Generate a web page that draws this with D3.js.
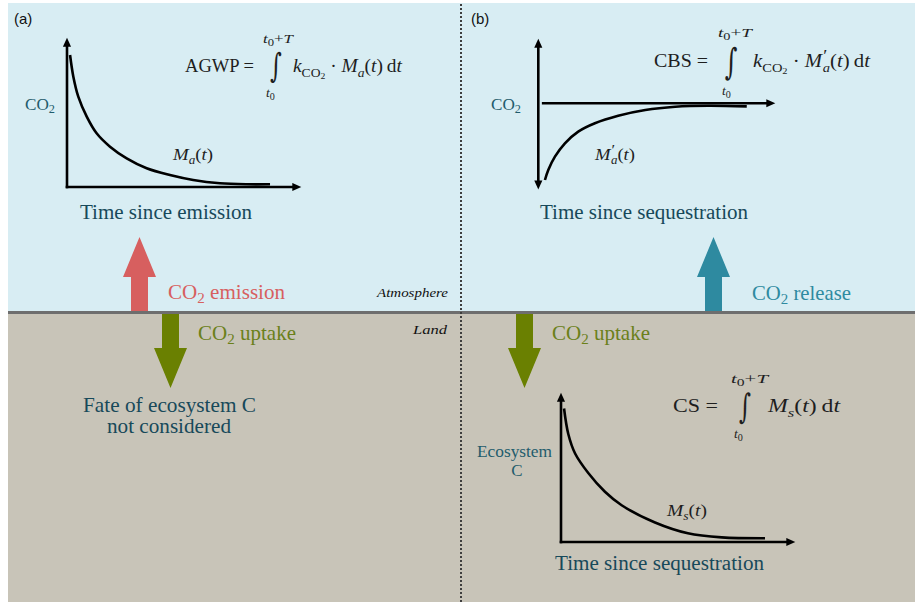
<!DOCTYPE html>
<html><head><meta charset="utf-8">
<script src="https://cdn.jsdelivr.net/npm/d3@7"></script>
<style>body{margin:0;background:#fff}svg{display:block}</style>
</head><body>
<svg id="c" width="915" height="602"></svg>
<script>
// ---------- data ----------
// (a) atmospheric CO2 remaining after an emission, Ma(t)
const emissionTime  = [1.3, 2.7, 4.8, 8.4, 12.6, 18.3, 25.4, 33.9, 43.8, 53.7, 65.1, 76.5, 86.4];
const emissionValue = [0.88, 0.735, 0.602, 0.469, 0.358, 0.269, 0.191, 0.125, 0.08, 0.047, 0.025, 0.018, 0.018];
// (b) atmospheric CO2 perturbation after sequestration, M'a(t)
const sequestTime  = [2.8, 4.2, 7.0, 11.2, 16.8, 23.8, 33.6, 45, 57.6, 71.6, 87.7];
const sequestValue = [-0.987, -0.858, -0.687, -0.515, -0.365, -0.257, -0.16, -0.086, -0.044, -0.031, -0.04];
// (b, land) ecosystem carbon remaining, Ms(t)
const ecoTime  = [1.3, 3.1, 6, 11.6, 18.7, 25.8, 40, 54, 68.4, 86.8];
const ecoValue = [0.89, 0.72, 0.59, 0.46, 0.335, 0.245, 0.13, 0.058, 0.031, 0.025];

const panelLabels = ["(a)", "(b)"];
const axisLabels = ["Time since emission", "Time since sequestration", "Time since sequestration"];

// ---------- setup ----------
const svg = d3.select("#c");
const SERIF = "'Liberation Serif', 'Times New Roman', serif";
const SANS = "'Liberation Sans', Arial, sans-serif";
const TEAL = "#17495a", TEAL2 = "#1f5c6c", INK = "#1e1e1e";

// backgrounds
svg.append("rect").attr("x", 8).attr("y", 3).attr("width", 907).attr("height", 310).attr("fill", "#d8edf3");
svg.append("rect").attr("x", 8).attr("y", 313).attr("width", 907).attr("height", 289).attr("fill", "#c8c4b8");
svg.append("line").attr("x1", 8).attr("x2", 915).attr("y1", 312.5).attr("y2", 312.5)
  .attr("stroke", "#6e6e6e").attr("stroke-width", 3);
svg.append("line").attr("x1", 461).attr("x2", 461).attr("y1", 4).attr("y2", 602)
  .attr("stroke", "#3e3e3e").attr("stroke-width", 2).attr("stroke-dasharray", "2,2");

// arrow marker
const defs = svg.append("defs");
defs.append("marker").attr("id", "ah").attr("viewBox", "0 -5 10 10")
  .attr("refX", 3).attr("refY", 0).attr("markerWidth", 10).attr("markerHeight", 9)
  .attr("markerUnits", "userSpaceOnUse").attr("orient", "auto-start-reverse")
  .append("path").attr("d", "M0,-4.5L10,0L0,4.5Z").attr("fill", "#000");

// ---------- text helper ----------
function rich(x, y, segs, o) {
  const t = svg.append("text").attr("x", x).attr("y", y)
    .attr("font-family", o.family || SERIF).attr("font-size", o.size)
    .attr("fill", o.fill || INK).attr("text-anchor", o.anchor || "start");
  if (o.len) t.attr("textLength", o.len).attr("lengthAdjust", "spacingAndGlyphs");
  let cur = 0;
  segs.forEach(s => {
    if (typeof s === "string") s = { t: s };
    const off = o.size * (s.sub || 0);
    const ts = t.append("tspan").text(s.t);
    if (off - cur !== 0) ts.attr("dy", off - cur);
    cur = off;
    if (s.scale) ts.attr("font-size", o.size * s.scale);
    if (s.i) ts.attr("font-style", "italic");
    if (s.dx) ts.attr("dx", s.dx);
  });
  return t;
}
const co2 = () => [{ t: "CO" }, { t: "2", sub: 0.2, scale: 0.72 }];

// ---------- block arrows ----------
function blockArrow(cx, yBase, yTip, color) {
  const shaft = 17, head = 33, headLen = 40;
  const dir = yTip < yBase ? -1 : 1;
  const yHead = yTip - dir * headLen;
  const pts = [[cx - shaft / 2, yBase], [cx - shaft / 2, yHead], [cx - head / 2, yHead], [cx, yTip],
               [cx + head / 2, yHead], [cx + shaft / 2, yHead], [cx + shaft / 2, yBase]];
  svg.append("path").attr("d", d3.line()(pts) + "Z").attr("fill", color);
}
blockArrow(139.5, 311, 237, "#d75f5f");
blockArrow(170.5, 314, 388, "#6a8001");
blockArrow(713.5, 311, 237, "#2e8aa0");
blockArrow(524.5, 314, 388, "#6a8001");

// ---------- mini charts ----------
function axisLine(x1, y1, x2, y2, start) {
  const l = svg.append("line").attr("x1", x1).attr("y1", y1).attr("x2", x2).attr("y2", y2)
    .attr("stroke", "#000").attr("stroke-width", 2.6).attr("marker-end", "url(#ah)");
  if (start) l.attr("marker-start", "url(#ah)");
}
function curve(xs, ys, tArr, vArr) {
  const line = d3.line().x(d => xs(d[0])).y(d => ys(d[1])).curve(d3.curveCatmullRom.alpha(0.5));
  svg.append("path").attr("d", line(d3.zip(tArr, vArr)))
    .attr("fill", "none").attr("stroke", "#000").attr("stroke-width", 2.6);
}

// (a) atmosphere
const xA = d3.scaleLinear().domain([0, 100]).range([67, 302]);
const yA = d3.scaleLinear().domain([0, 1]).range([187, 37]);
axisLine(xA(0), yA(0) + 1.3, xA(0), yA(1) + 7);
axisLine(xA(0) - 1.3, yA(0), xA(100) - 7, yA(0));
curve(xA, yA, emissionTime, emissionValue);

// (b) atmosphere
const xB = d3.scaleLinear().domain([0, 100]).range([538.3, 776]);
const yB = d3.scaleLinear().domain([-1, 0]).range([181, 103.3]);
axisLine(xB(0), yB(-1.12) - 7, xB(0), yB(0.84) + 7, true);
axisLine(xB(1.5), yB(0), xB(100) - 7, yB(0));
curve(xB, yB, sequestTime, sequestValue);

// (b) land
const xC = d3.scaleLinear().domain([0, 100]).range([561, 796]);
const yC = d3.scaleLinear().domain([0, 1]).range([542, 392]);
axisLine(xC(0), yC(0) + 1.3, xC(0), yC(1) + 7);
axisLine(xC(0) - 1.3, yC(0), xC(100) - 7, yC(0));
curve(xC, yC, ecoTime, ecoValue);

// ---------- labels ----------
rich(14, 24, [panelLabels[0]], { family: SANS, size: 15, fill: "#111" });
rich(471, 24, [panelLabels[1]], { family: SANS, size: 15, fill: "#111" });

rich(40, 110, co2(), { size: 16.5, fill: TEAL2, anchor: "middle", len: 30 });
rich(506, 110, co2(), { size: 16.5, fill: TEAL2, anchor: "middle", len: 30 });
rich(514.5, 457, ["Ecosystem"], { size: 17, fill: TEAL2, anchor: "middle", len: 75 });
rich(517, 476, ["C"], { size: 17, fill: TEAL2, anchor: "middle" });

rich(166, 219, [axisLabels[0]], { size: 20.5, fill: TEAL, anchor: "middle", len: 172 });
rich(644, 219, [axisLabels[1]], { size: 20.5, fill: TEAL, anchor: "middle", len: 208 });
rich(659.5, 570, [axisLabels[2]], { size: 20.5, fill: TEAL, anchor: "middle", len: 209 });

rich(168, 299, co2().concat([" emission"]), { size: 21, fill: "#d75f5f", len: 117 });
rich(752, 300, co2().concat([" release"]), { size: 21, fill: "#2e8aa0", len: 99 });
rich(198, 340, co2().concat([" uptake"]), { size: 21, fill: "#6b801a", len: 98 });
rich(552, 340, co2().concat([" uptake"]), { size: 21, fill: "#6b801a", len: 98 });

rich(169.5, 412, ["Fate of ecosystem C"], { size: 21, fill: TEAL, anchor: "middle", len: 173 });
rich(169, 433, ["not considered"], { size: 21, fill: TEAL, anchor: "middle", len: 124 });

rich(377, 297, [{ t: "Atmosphere", i: true }], { size: 13, fill: "#111", len: 71 });
rich(413, 334, [{ t: "Land", i: true }], { size: 13, fill: "#111", len: 34 });

// curve labels
const Ma = [{ t: "M", i: true }, { t: "a", i: true, sub: 0.25, scale: 0.7 }, { t: "(" }, { t: "t", i: true }, { t: ")" }];
const Mpa = [{ t: "M", i: true }, { t: "\u2032", sub: -0.32, scale: 0.9, dx: 1 }, { t: "a", i: true, sub: 0.25, scale: 0.7, dx: -4 }, { t: "(" }, { t: "t", i: true }, { t: ")" }];
const Ms = [{ t: "M", i: true }, { t: "s", i: true, sub: 0.25, scale: 0.7 }, { t: "(" }, { t: "t", i: true }, { t: ")" }];
rich(173, 160, Ma, { size: 17, len: 40 });
rich(595, 160, Mpa, { size: 17, len: 40 });
rich(667, 516, Ms, { size: 17, len: 40 });

// ---------- formulas ----------
function integral(cx, yTop, yBot, limTop, limBot) {
  const h = yBot - yTop;
  const g = svg.append("g").attr("transform", `translate(${cx},${yBot - h * 0.22}) scale(0.85,1.25)`);
  g.append("text").attr("text-anchor", "middle").attr("font-family", "'DejaVu Serif', serif")
    .attr("font-size", h * 0.7).attr("fill", INK).text("\u222B");
  rich(limTop[0], limTop[1], [{ t: "t", i: true }, { t: "0", sub: 0.22, scale: 0.75 }, { t: "+" }, { t: "T", i: true }], { size: 13.5, len: limTop[2] });
  rich(limBot[0], limBot[1], [{ t: "t", i: true }, { t: "0", sub: 0.22, scale: 0.75 }], { size: 13.5 });
}
const kco2 = [{ t: "k", i: true }, { t: "CO", sub: 0.25, scale: 0.7 }, { t: "2", sub: 0.38, scale: 0.5 }, { t: " \u00B7 " }];
const dt = [{ t: ")\u2009d" }, { t: "t", i: true }];

rich(254, 72, ["AGWP ="], { size: 18.5, anchor: "end", len: 69 });
integral(276, 47, 85, [263, 43, 30], [266, 97]);
rich(293, 72, kco2.concat([{ t: "M", i: true }, { t: "a", i: true, sub: 0.25, scale: 0.7 }, { t: "(" }, { t: "t", i: true }], dt), { size: 18.5, len: 109 });

rich(708, 67, ["CBS ="], { size: 18.5, anchor: "end", len: 54 });
integral(731, 42, 83, [718, 37, 34], [722, 95]);
rich(753, 67, kco2.concat([{ t: "M", i: true }, { t: "\u2032", sub: -0.32, scale: 0.9, dx: 1 }, { t: "a", i: true, sub: 0.25, scale: 0.7, dx: -4 }, { t: "(" }, { t: "t", i: true }], dt), { size: 18.5, len: 117 });

rich(718, 412, ["CS ="], { size: 18.5, anchor: "end", len: 45 });
integral(745, 388, 427, [731, 383, 37], [734, 438]);
rich(768, 412, [{ t: "M", i: true }, { t: "s", i: true, sub: 0.25, scale: 0.7 }, { t: "(" }, { t: "t", i: true }].concat(dt), { size: 18.5, len: 72 });
</script>
</body></html>
